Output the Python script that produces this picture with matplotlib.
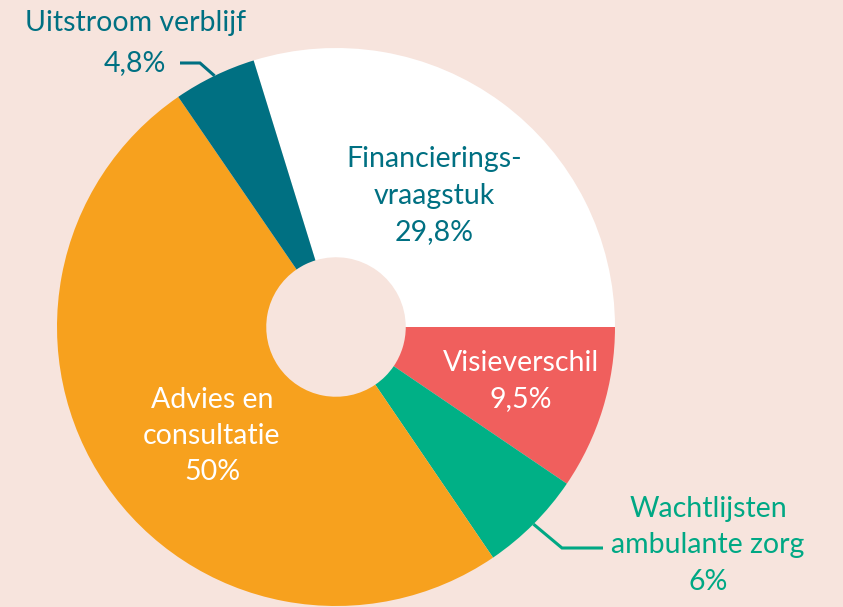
import numpy as np
import matplotlib
matplotlib.use("Agg")
import matplotlib.pyplot as plt

labels = ["Financierings-\nvraagstuk", "Visieverschil", "Wachtlijsten\nambulante zorg",
          "Advies en\nconsultatie", "Uitstroom verblijf"]
values = [29.8, 9.5, 6.0, 50.0, 4.8]
pct_text = ["29,8%", "9,5%", "6%", "50%", "4,8%"]
colors = ["#ffffff", "#f05f5d", "#00b086", "#f7a11e", "#007082"]

bg = "#f7e4dd"
teal = "#007082"
green = "#00a884"

plt.rcParams['font.family'] = ['Lato', 'DejaVu Sans']

fig = plt.figure(figsize=(8.43, 6.07), dpi=100, facecolor=bg)
ax = fig.add_axes([0, 0, 1, 1])
ax.set_facecolor(bg)

# pixel -> data helpers (center 336,327, radius 279 px)
cx, cy, R = 336, 327, 279.0


def px(x, y):
    return (x - cx) / R, (cy - y) / R


start = values[0] / sum(values) * 360
wedges, _ = ax.pie(values, colors=colors, startangle=start, counterclock=False,
                   radius=1.0, wedgeprops=dict(width=0.75, linewidth=0))

ax.set_xlim(-cx / R, (843 - cx) / R)
ax.set_ylim(-(607 - cy) / R, cy / R)
ax.set_aspect('equal')
ax.axis('off')

fs = 20.5
ls = 1.5
# inside labels
ax.text(*px(434, 196), labels[0] + "\n" + pct_text[0], ha='center', va='center',
        color=teal, fontsize=fs, linespacing=ls)
ax.text(*px(521, 381), labels[1] + "\n" + pct_text[1], ha='center', va='center',
        color='white', fontsize=fs, linespacing=ls)
ax.text(*px(212, 436), labels[3] + "\n" + pct_text[3], ha='center', va='center',
        color='white', fontsize=fs, linespacing=ls)

# outside labels with leader lines
ax.text(*px(136, 23), labels[4], ha='center', va='center', color=teal, fontsize=fs)
ax.text(*px(166, 63), pct_text[4], ha='right', va='center', color=teal, fontsize=fs)
ax.text(*px(708, 545), labels[2] + "\n" + pct_text[2], ha='center', va='center',
        color=green, fontsize=fs, linespacing=ls)


def anchor(w):
    a = np.deg2rad((w.theta1 + w.theta2) / 2)
    return np.cos(a) * w.r, np.sin(a) * w.r


ax0 = anchor(wedges[4])
e1 = px(200, 63)
t1 = px(180, 63)
ax.plot([ax0[0], e1[0], t1[0]], [ax0[1], e1[1], t1[1]], color=teal, lw=2.2,
        solid_capstyle='butt', solid_joinstyle='miter')

ag = anchor(wedges[2])
e2 = px(562, 548)
t2 = px(603, 548)
ax.plot([ag[0], e2[0], t2[0]], [ag[1], e2[1], t2[1]], color=green, lw=2.2,
        solid_capstyle='butt', solid_joinstyle='miter')

fig.savefig("out.png", dpi=100, facecolor=bg)
